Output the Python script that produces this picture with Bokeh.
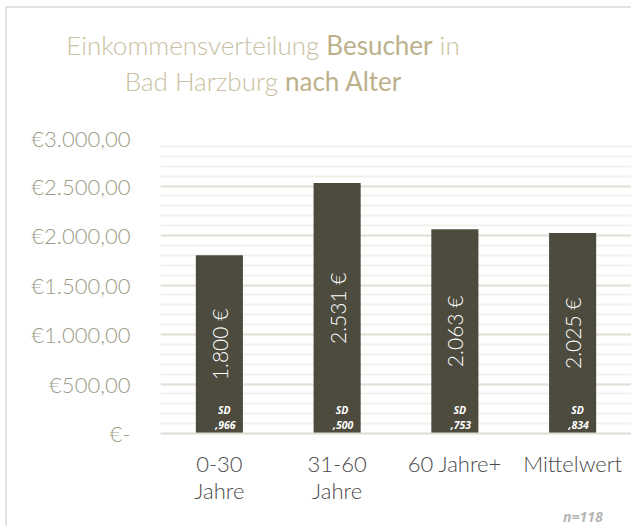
from bokeh.plotting import figure
from bokeh.layouts import column
from bokeh.models import FactorRange, FixedTicker, ColumnDataSource, Div
from bokeh.core.properties import value
from bokeh.embed import file_html
from bokeh.resources import INLINE
import math

categories = ["0-30\nJahre", "31-60\nJahre", "60 Jahre+", "Mittelwert"]
income = [1800, 2531, 2063, 2025]
sd_values = [",966", ",500", ",753", ",834"]
y_ticks = [0, 500, 1000, 1500, 2000, 2500, 3000]
y_tick_labels = ["€-", "€500,00", "€1.000,00", "€1.500,00", "€2.000,00", "€2.500,00", "€3.000,00"]
title_line1 = [("Einkommensverteilung ", False), ("Besucher", True), (" in", False)]
title_line2 = [("Bad Harzburg ", False), ("nach Alter", True)]
n_label = "n=118"

LIGHT = "'Lato Light', Lato"
W = 624

def fmt(v):
    return f"{v:,}".replace(",", ".") + " €"

def line_html(parts):
    out = []
    for txt, bold in parts:
        if bold:
            out.append(f"<span style=\"font-family:Lato;color:#bcb18b\">{txt}</span>")
        else:
            out.append(f"<span style=\"font-family:'Lato Light',Lato;color:#c9c1a1\">{txt}</span>")
    return "".join(out)

# ---- title ----
title_html = (
    "<div style=\"width:512px;text-align:center;font-size:26px;line-height:35px;"
    "padding-top:20px;white-space:pre;margin:0\">"
    + line_html(title_line1) + "<br>" + line_html(title_line2) + "</div>"
)
head = Div(text=title_html, width=W, height=116,
           styles={"margin": "0", "padding": "0", "overflow": "hidden", "background": "white"})

# ---- main chart ----
src = ColumnDataSource(dict(
    cat=categories,
    val=income,
    mid=[v / 2 for v in income],
    lab=[fmt(v) for v in income],
    sd=sd_values,
    sdh=["SD"] * len(categories),
    zero=[0] * len(categories),
))

p = figure(x_range=FactorRange(factors=categories), y_range=(0, 3000),
           width=W, height=382, output_backend="svg", toolbar_location=None,
           min_border_left=153, min_border_right=0, min_border_top=12, min_border_bottom=71)
p.outline_line_color = None
p.background_fill_color = "white"
p.border_fill_color = "white"

p.vbar(x="cat", top="val", width=0.4, source=src, fill_color="#4c4b3e", line_color=None)

p.text(x="cat", y="mid", text="lab", source=src, angle=math.pi / 2,
       text_align="center", text_baseline="middle", text_color="white",
       text_font=value(LIGHT), text_font_size="21px")
p.text(x="cat", y="zero", text="sdh", source=src, x_offset=5, y_offset=-24,
       text_align="center", text_baseline="middle", text_color="white",
       text_font=value("Open Sans"), text_font_style="bold italic", text_font_size="10.5px")
p.text(x="cat", y="zero", text="sd", source=src, x_offset=6, y_offset=-9,
       text_align="center", text_baseline="middle", text_color="white",
       text_font=value("Open Sans"), text_font_style="bold italic", text_font_size="10.5px")

p.yaxis.ticker = FixedTicker(ticks=y_ticks, minor_ticks=list(range(0, 3001, 100)))
p.yaxis.major_label_overrides = {t: l for t, l in zip(y_ticks, y_tick_labels)}
p.yaxis.axis_line_color = None
p.yaxis.major_tick_line_color = None
p.yaxis.minor_tick_line_color = None
p.yaxis.major_label_standoff = 24
p.yaxis.major_label_text_font = LIGHT
p.yaxis.major_label_text_font_size = "22px"
p.yaxis.major_label_text_color = "#9c9c86"

p.xaxis.axis_line_color = "#dcdcd4"
p.xaxis.axis_line_width = 2
p.xaxis.major_tick_line_color = None
p.xaxis.major_label_standoff = 10
p.xaxis.major_label_text_font = LIGHT
p.xaxis.major_label_text_font_size = "22px"
p.xaxis.major_label_text_line_height = 1.0
p.xaxis.major_label_text_color = "#4a4a4a"

p.xgrid.grid_line_color = None
p.ygrid.grid_line_color = "#e2e2da"
p.ygrid.grid_line_width = 2
p.ygrid.minor_grid_line_color = "#f1f1ec"
p.ygrid.minor_grid_line_width = 2

# ---- footer with sample size ----
foot_html = (
    "<div style=\"padding-left:556px;padding-top:2px;font-family:'Open Sans';font-weight:bold;"
    f"font-style:italic;font-size:14px;line-height:17px;color:#b4b4b4;margin:0\">{n_label}</div>"
)
foot = Div(text=foot_html, width=W, height=20,
           styles={"margin": "0", "padding": "0", "overflow": "hidden", "background": "white"})

page = column(head, p, foot, spacing=0,
              styles={"border-left": "2px solid #e4e4de", "border-top": "2px solid #e4e4de",
                      "margin-left": "5px", "margin-top": "6px"})

open("out.html", "w").write(file_html(page, INLINE))
